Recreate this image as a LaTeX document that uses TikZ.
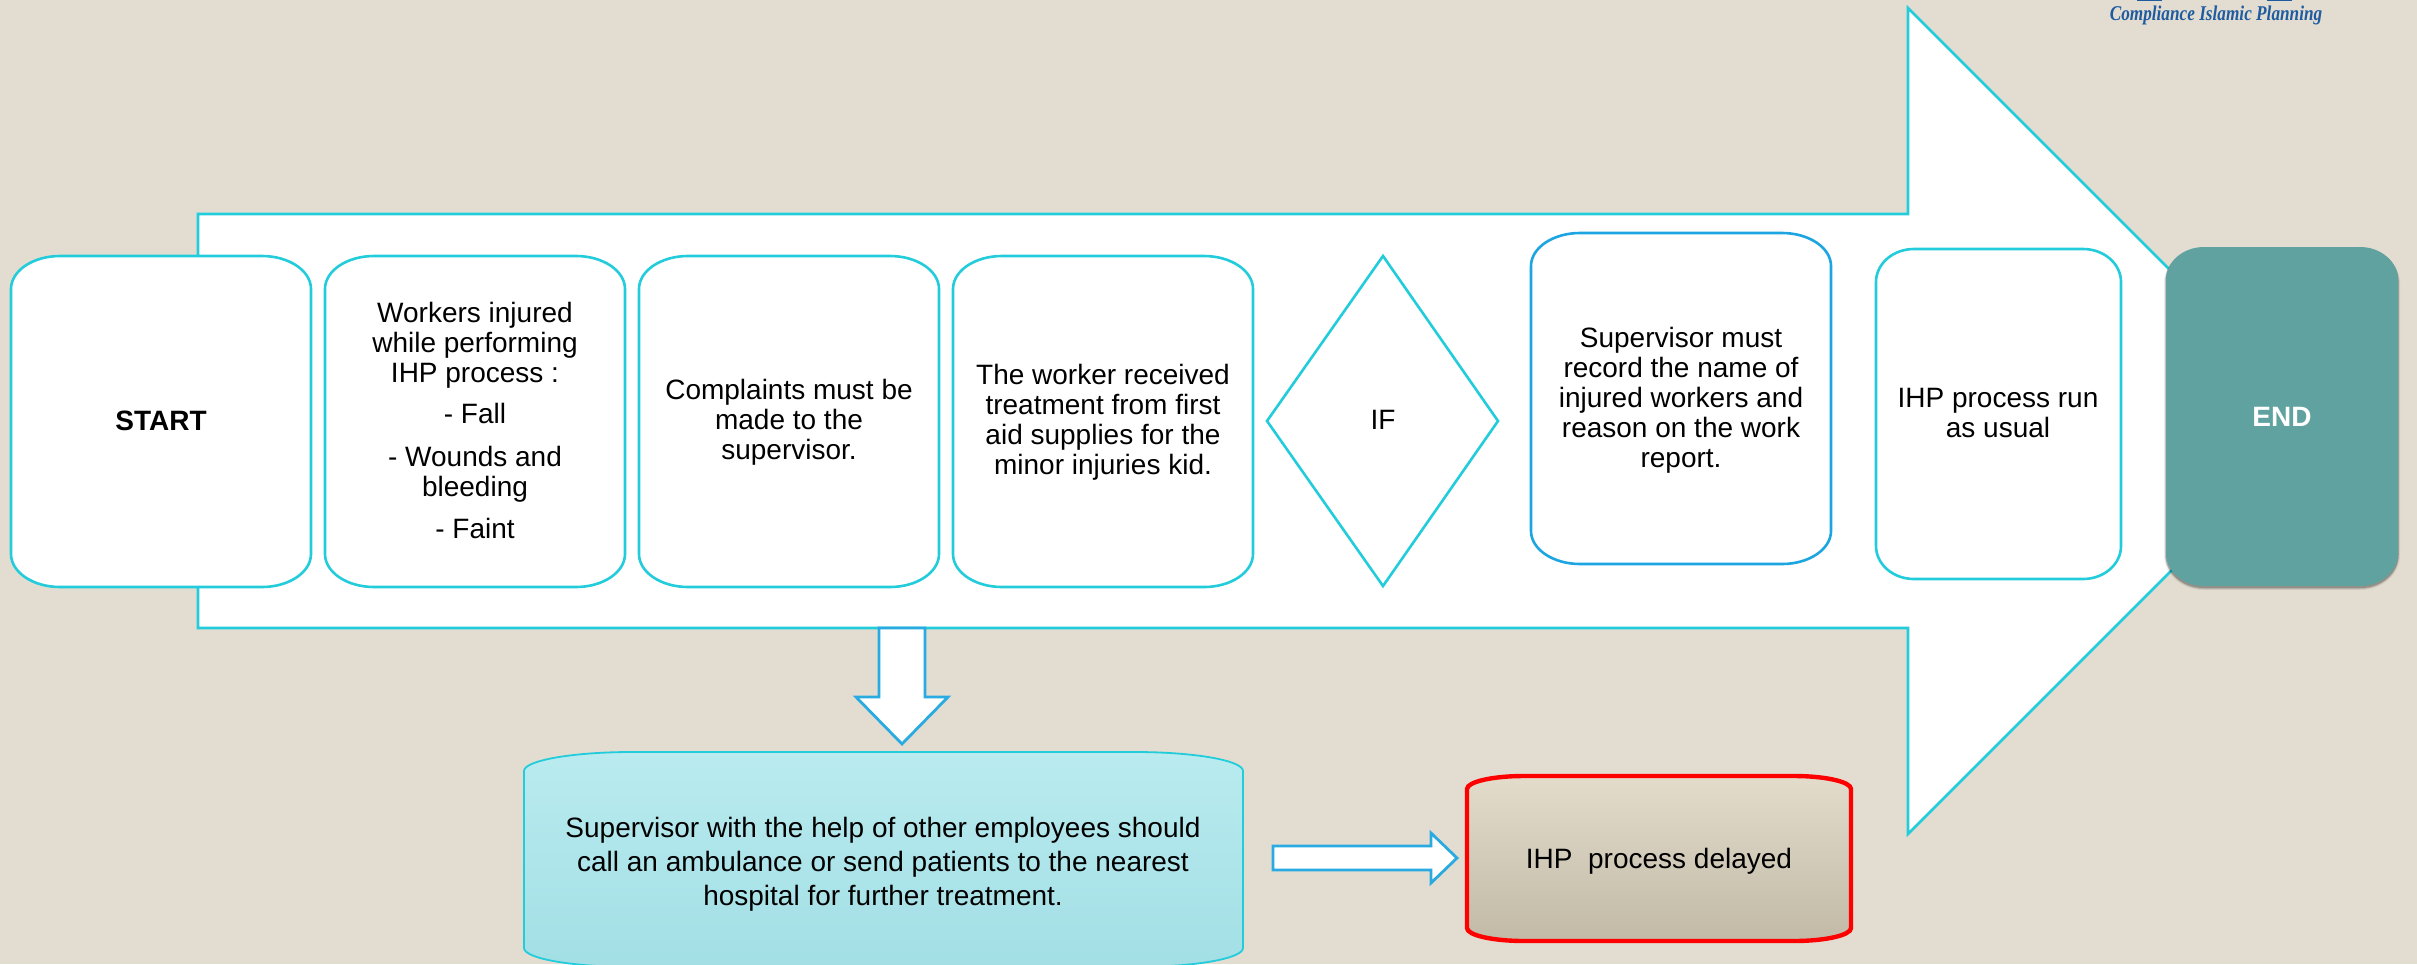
\documentclass[tikz,border=0pt]{standalone}
\usepackage{fontspec}
\setmainfont{Liberation Sans}
\newfontfamily\logofont{Liberation Serif}
\definecolor{bgc}{HTML}{E3DDD1}
\definecolor{cyanline}{HTML}{22CCDB}
\definecolor{blueline}{HTML}{1CA5E0}
\definecolor{arrowline}{HTML}{29ABE2}
\definecolor{teal}{HTML}{60A29F}
\definecolor{logoblue}{HTML}{1F5BA0}
\definecolor{cyl1}{HTML}{B9EBEF}
\definecolor{cyl2}{HTML}{A2DFE5}
\definecolor{del1}{HTML}{E3DCCB}
\definecolor{del2}{HTML}{C2BAA7}
\tikzset{
  flowbox/.style={draw=cyanline,line width=2.6pt,fill=white},
  recbox/.style={draw=blueline,line width=2.6pt,fill=white},
  bigarrow/.style={draw=cyanline,line width=2.6pt,fill=white,line join=miter},
  blockarrow/.style={draw=arrowline,line width=2.8pt,fill=white,line join=miter},
  endbox/.style={fill=teal},
  cylbox/.style={draw=cyanline,line width=1.8pt,top color=cyl1,bottom color=cyl2},
  delaybox/.style={draw=red,line width=4.4pt,top color=del1,bottom color=del2},
  txt/.style={anchor=base,inner sep=0pt,text=black}
}
% rounded rectangle with elliptical corners: style, x1,y1,x2,y2,rx,ry
\newcommand\rrect[7]{%
  \pgfmathsetmacro\rxa{#2+#6}\pgfmathsetmacro\rxb{#4-#6}%
  \pgfmathsetmacro\rya{#3+#7}\pgfmathsetmacro\ryb{#5-#7}%
  \pgfmathsetmacro\rcx{0.4477*#6}\pgfmathsetmacro\rcy{0.4477*#7}%
  \path[#1] (\rxa,#3) -- (\rxb,#3)
    .. controls (#4-\rcx,#3) and (#4,#3+\rcy) .. (#4,\rya) -- (#4,\ryb)
    .. controls (#4,#5-\rcy) and (#4-\rcx,#5) .. (\rxb,#5) -- (\rxa,#5)
    .. controls (#2+\rcx,#5) and (#2,#5-\rcy) .. (#2,\ryb) -- (#2,\rya)
    .. controls (#2,#3+\rcy) and (#2+\rcx,#3) .. (\rxa,#3) -- cycle;}
% text block whose first baseline lies at the given point
\newcommand\blk[1]{\begin{tabular}[t]{@{}c@{}}#1\end{tabular}}
\begin{document}
\begin{tikzpicture}[x=1pt,y=-1pt,font=\fontsize{28}{30}\selectfont]
\useasboundingbox (0,0) rectangle (2417,964);
\clip (0,0) rectangle (2417,964);
\fill[bgc] (0,0) rectangle (2417,964);
\setlength{\tabcolsep}{0pt}
% logo fragments
\fill[logoblue] (2137,0) rectangle (2162,1.4);
\fill[logoblue] (2267,0) rectangle (2292,1.4);
\node[txt,text=logoblue,font=\logofont\bfseries\itshape\fontsize{21}{23}\selectfont] (logo) at (2216,20) {\scalebox{0.82}[1]{Compliance Islamic Planning}};
% main arrow
\draw[bigarrow] (198,214) -- (1908,214) -- (1908,8) -- (2321,421) -- (1908,834) -- (1908,628) -- (198,628) -- cycle;
% process boxes
\rrect{flowbox}{11}{256}{311}{587}{49}{33}
\rrect{flowbox}{325}{256}{625}{587}{49}{33}
\rrect{flowbox}{639}{256}{939}{587}{49}{33}
\rrect{flowbox}{953}{256}{1253}{587}{49}{33}
\draw[flowbox,line join=miter] (1267,421) -- (1383,256) -- (1498,421) -- (1383,586) -- cycle;
\rrect{recbox}{1531}{233}{1831}{564}{49}{33}
\rrect{flowbox}{1876}{249}{2121}{579}{38}{33}
% end box with soft shadow
\rrect{fill=black,fill opacity=0.07}{2164}{248}{2400}{590}{40}{35}
\rrect{fill=black,fill opacity=0.12}{2165}{248}{2399}{589}{39}{34}
\rrect{fill=black,fill opacity=0.20}{2165.5}{248}{2398.5}{588}{38}{33}
\rrect{endbox}{2166}{247}{2398}{586}{38}{33}
% texts
\node[txt,font=\bfseries\fontsize{28}{30}\selectfont] (start) at (161,430) {START};
\node[txt] (injured) at (475,322) {\blk{Workers injured\\ while performing\\ IHP process :\\[11pt] - Fall\\[13pt] - Wounds and\\ bleeding\\[12pt] - Faint}};
\node[txt] (complaints) at (789,399) {\blk{Complaints must be\\ made to the\\ supervisor.}};
\node[txt] (treatment) at (1103,384) {\blk{The worker received\\ treatment from first\\ aid supplies for the\\ minor injuries kid.}};
\node[txt] (iff) at (1383,429) {IF};
\node[txt] (record) at (1681,347) {\blk{Supervisor must\\ record the name of\\ injured workers and\\ reason on the work\\ report.}};
\node[txt] (usual) at (1998,407) {\blk{IHP process run\\ as usual}};
\node[txt,text=white,font=\bfseries\fontsize{28}{30}\selectfont] (endn) at (2282,426) {END};
% lower boxes
\rrect{cylbox}{524}{752}{1243}{967}{108}{19}
\rrect{delaybox}{1467}{776}{1851}{941}{57}{13}
\node[txt,font=\fontsize{28}{34}\selectfont] (hospital) at (883,837) {\blk{Supervisor with the help of other employees should\\ call an ambulance or send patients to the nearest\\ hospital for further treatment.}};
\node[txt] (delayed) at (1659,868) {IHP\ \ process delayed};
% block arrows
\coordinate (downtop) at (902,628);
\coordinate (downtip) at (902,744);
\draw[blockarrow] (downtop) ++(-23,0) -- ++(46,0) -- ++(0,69) -- ++(23,0) -- (downtip) -- ++(-46,-47) -- ++(23,0) -- cycle;
\coordinate (righttail) at (1273,858);
\coordinate (righttip) at (1457,858);
\draw[blockarrow] (righttail) ++(0,-12) -- ++(158,0) -- ++(0,-13) -- (righttip) -- ++(-26,25) -- ++(0,-13) -- ++(-158,0) -- cycle;
\end{tikzpicture}
\end{document}
